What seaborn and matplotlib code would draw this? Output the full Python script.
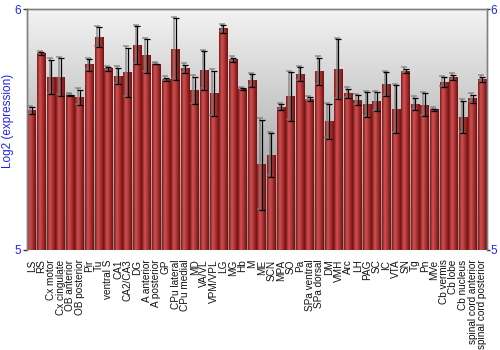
import numpy as np
import pandas as pd
import matplotlib
matplotlib.use("Agg")
import matplotlib.pyplot as plt
import matplotlib.transforms as mtransforms
from matplotlib.colors import LinearSegmentedColormap
import seaborn as sns

regions = ["LS", "RS", "Cx motor", "Cx cingulate", "OB anterior", "OB posterior", "Pir", "Tu",
           "ventral S", "CA1", "CA2/CA3", "DG", "A anterior", "A posterior", "GP", "CPu lateral",
           "CPu medial", "MD", "VA/VL", "VPM/VPL", "LG", "MG", "Hb", "M",
           "ME", "SCN", "MPA", "SO", "Pa", "SPa ventral", "SPa dorsal", "DM",
           "VMH", "Arc", "LH", "PAG", "SC", "IC", "VTA", "SN",
           "Tg", "Pn", "MVe", "Cb vermis", "Cb lobe", "Cb nucleus",
           "spinal cord anterior", "spinal cord posterior"]
values = [5.578, 5.816, 5.718, 5.718, 5.643, 5.634, 5.769, 5.883,
          5.752, 5.722, 5.737, 5.849, 5.806, 5.772, 5.708, 5.834,
          5.752, 5.663, 5.746, 5.650, 5.918, 5.790, 5.668, 5.704,
          5.353, 5.394, 5.592, 5.638, 5.730, 5.625, 5.741, 5.534,
          5.750, 5.650, 5.622, 5.603, 5.615, 5.689, 5.584, 5.743,
          5.606, 5.602, 5.582, 5.696, 5.717, 5.552, 5.628, 5.708]
errors = [0.015, 0.005, 0.072, 0.077, 0.002, 0.032, 0.024, 0.041,
          0.008, 0.035, 0.103, 0.079, 0.070, 0.002, 0.007, 0.127,
          0.017, 0.057, 0.080, 0.095, 0.016, 0.008, 0.003, 0.026,
          0.188, 0.090, 0.012, 0.101, 0.030, 0.008, 0.057, 0.072,
          0.124, 0.019, 0.021, 0.052, 0.039, 0.050, 0.100, 0.010,
          0.026, 0.048, 0.004, 0.021, 0.011, 0.068, 0.017, 0.012]
y_ticks = [5, 6]
y_label = "Log2 (expression)"

df = pd.DataFrame({"region": regions, "value": values, "err": errors})

sns.set_theme(style="white")
plt.rcParams["font.family"] = ["Liberation Sans", "DejaVu Sans"]

fig = plt.figure(figsize=(5, 3.5), dpi=100)
ax = fig.add_axes([0.054, 0.286, 0.92, 0.688])

sns.barplot(data=df, x="region", y="value", errorbar=None, width=0.9,
            color="#b03030", ax=ax, zorder=2)

ymin, ymax = y_ticks[0], y_ticks[-1]

# background gradient
bg = LinearSegmentedColormap.from_list("bg", ["#8a8a8a", "#f3f3f3"])
ax.imshow(np.linspace(0, 1, 256).reshape(-1, 1), cmap=bg, aspect="auto",
          extent=[0, 1, 0, 1], transform=ax.transAxes, origin="lower", zorder=0)

# bar gradients
barcm = LinearSegmentedColormap.from_list(
    "bar", [(0.0, "#7a1414"), (0.3, "#d05555"), (0.55, "#b83a3a"), (1.0, "#6e1010")])
grad = np.linspace(0, 1, 64).reshape(1, -1)
for p in ax.patches:
    x0 = p.get_x(); w = p.get_width(); h = p.get_height()
    ax.imshow(grad, cmap=barcm, aspect="auto", extent=[x0, x0 + w, ymin, h],
              zorder=2.5, interpolation="bicubic")
    p.set_facecolor("none")
    p.set_edgecolor("none")

xs = np.arange(len(regions))
shadow = mtransforms.offset_copy(ax.transData, fig=fig, x=-1, y=1, units="points")
ax.errorbar(xs, df["value"], yerr=df["err"], fmt="none", ecolor="#777777",
            elinewidth=1.2, capsize=2.2, capthick=1.2, zorder=3, transform=shadow, alpha=0.7)
ax.errorbar(xs, df["value"], yerr=df["err"], fmt="none", ecolor="black",
            elinewidth=0.9, capsize=2.2, capthick=0.9, zorder=4)

ax.set_xlim(-0.5, len(regions) - 0.5)
ax.set_ylim(ymin, ymax)
ax.set_yticks(y_ticks)
ax.set_yticklabels([str(t) for t in y_ticks])
ax.tick_params(axis="y", which="both", left=True, right=False, labelleft=True, labelright=False,
               labelcolor="#2222ee", labelsize=8.5, length=3, width=1, color="#333333", pad=1)
ax.tick_params(axis="x", bottom=False, labelsize=7.2, labelrotation=90, pad=1, labelcolor="#111111")
ax.set_xlabel("")
ax.set_ylabel(y_label, color="#2222ee", fontsize=8.5, labelpad=1)
ax.yaxis.set_label_coords(-0.029, 0.535)

# right-side tick labels
axr = ax.twinx()
axr.set_ylim(ymin, ymax)
axr.set_yticks(y_ticks)
axr.set_yticklabels([str(t) for t in y_ticks])
axr.tick_params(axis="y", right=True, labelright=True, labelcolor="#2222ee", labelsize=8.5,
                length=2, width=1, color="#333333", pad=0.5)
axr.grid(False)

for a in (ax, axr):
    for s in ["left", "top", "right"]:
        a.spines[s].set_color("#808080")
        a.spines[s].set_linewidth(1)
    a.spines["bottom"].set_visible(False)

fig.savefig("out.png", dpi=100)
